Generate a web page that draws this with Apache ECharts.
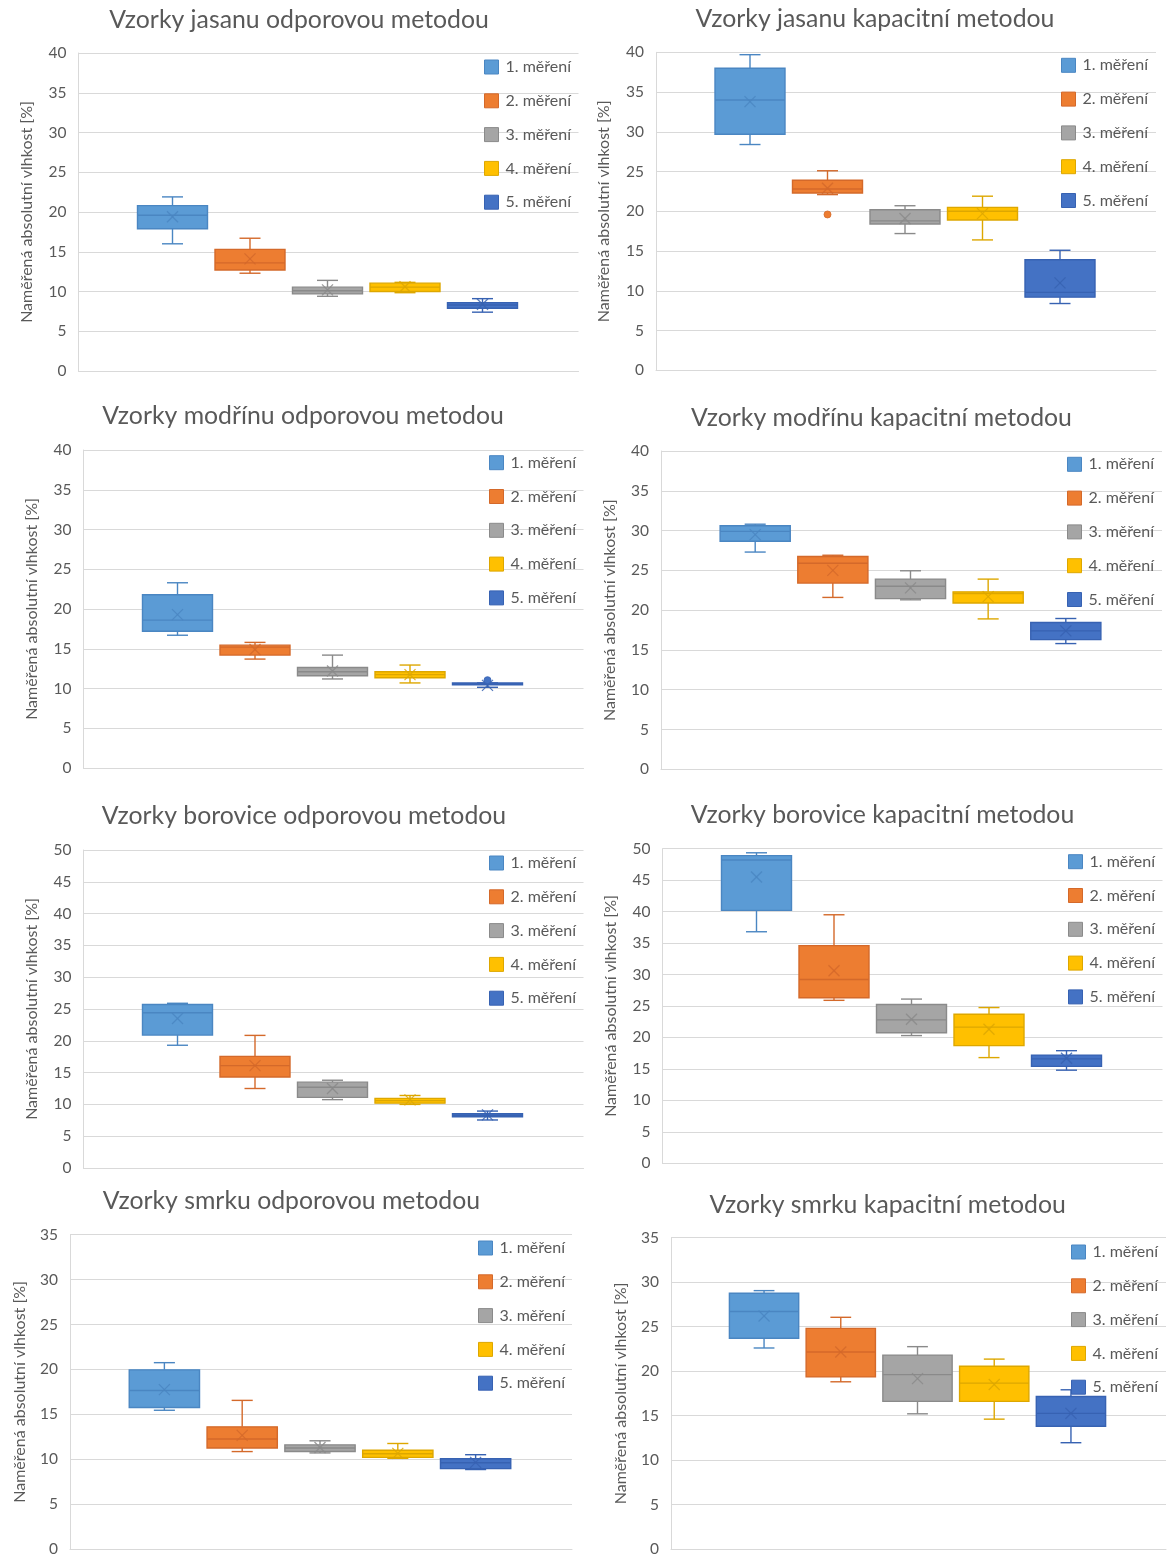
<!DOCTYPE html>
<html>
<head>
<meta charset="utf-8">
<script src="https://cdn.jsdelivr.net/npm/echarts@6/dist/echarts.min.js"></script>
<style>
  html, body { margin: 0; padding: 0; background: #ffffff; }
  #chart { width: 1167px; height: 1557px; }
</style>
</head>
<body>
<div id="chart"></div>
<script>
// ---- data -------------------------------------------------------------
const measurementNames = ['1. měření', '2. měření', '3. měření', '4. měření', '5. měření'];
const panelTitles = [
  'Vzorky jasanu odporovou metodou',
  'Vzorky jasanu kapacitní metodou',
  'Vzorky modřínu odporovou metodou',
  'Vzorky modřínu kapacitní metodou',
  'Vzorky borovice odporovou metodou',
  'Vzorky borovice kapacitní metodou',
  'Vzorky smrku odporovou metodou',
  'Vzorky smrku kapacitní metodou'
];
const valueAxisTitle = 'Naměřená absolutní vlhkost [%]';
const valueAxisMax = [40, 40, 40, 40, 50, 50, 35, 35];
const valueAxisStep = 5;

// one row per measurement: [min, Q1, median, Q3, max, mean]
const jasanOdporove = [
  [16.0, 17.9, 19.6, 20.8, 21.9, 19.4],
  [12.3, 12.7, 13.6, 15.3, 16.7, 14.1],
  [9.4, 9.7, 10.1, 10.55, 11.4, 10.2],
  [9.85, 10.0, 10.55, 11.05, 11.15, 10.6],
  [7.4, 7.9, 8.3, 8.6, 9.1, 8.4]
];
const jasanKapacitni = [
  [28.4, 29.7, 34.0, 38.0, 39.7, 33.8],
  [22.1, 22.3, 22.8, 23.9, 25.1, 22.9],
  [17.2, 18.4, 18.8, 20.2, 20.7, 19.1],
  [16.4, 18.9, 20.0, 20.5, 21.9, 19.7],
  [8.4, 9.2, 9.8, 13.9, 15.1, 11.0]
];
const modrinOdporove = [
  [16.7, 17.2, 18.6, 21.8, 23.3, 19.3],
  [13.7, 14.2, 15.2, 15.45, 15.8, 14.9],
  [11.2, 11.6, 12.1, 12.65, 14.2, 12.2],
  [10.7, 11.35, 11.75, 12.1, 12.95, 11.75],
  [10.15, 10.45, 10.55, 10.7, 10.7, 10.4]
];
const modrinKapacitni = [
  [27.3, 28.65, 29.9, 30.6, 30.8, 29.5],
  [21.6, 23.4, 25.9, 26.75, 26.9, 25.0],
  [21.3, 21.45, 23.0, 23.9, 24.95, 22.8],
  [18.9, 20.9, 22.1, 22.3, 23.9, 21.7],
  [15.8, 16.3, 17.4, 18.45, 18.95, 17.4]
];
const borovOdporove = [
  [19.3, 20.9, 24.4, 25.7, 25.9, 23.5],
  [12.5, 14.3, 16.1, 17.55, 20.85, 16.1],
  [10.75, 11.1, 12.7, 13.5, 13.8, 12.5],
  [10.0, 10.2, 10.6, 10.95, 11.4, 10.7],
  [7.55, 8.05, 8.3, 8.55, 8.95, 8.35]
];
const borovKapacitni = [
  [36.8, 40.2, 48.2, 48.9, 49.35, 45.5],
  [25.9, 26.3, 29.2, 34.6, 39.5, 30.6],
  [20.3, 20.75, 22.8, 25.25, 26.1, 22.9],
  [16.8, 18.7, 21.65, 23.7, 24.75, 21.3],
  [14.8, 15.4, 16.6, 17.2, 17.9, 16.7]
];
const smrkOdporove = [
  [15.45, 15.75, 17.65, 19.95, 20.75, 17.75],
  [10.85, 11.25, 12.25, 13.6, 16.55, 12.65],
  [10.7, 10.85, 11.25, 11.6, 12.05, 11.3],
  [10.1, 10.2, 10.6, 11.0, 11.75, 10.65],
  [8.85, 8.95, 9.6, 10.05, 10.5, 9.65]
];
const smrkKapacitni = [
  [22.6, 23.7, 26.7, 28.75, 29.05, 26.2],
  [18.8, 19.35, 22.15, 24.8, 26.05, 22.15],
  [15.2, 16.6, 19.6, 21.8, 22.75, 19.15],
  [14.6, 16.6, 18.65, 20.55, 21.35, 18.5],
  [11.95, 13.8, 15.25, 17.15, 17.9, 15.25]
];
// points outside the whiskers, per measurement
const jasanKapacitniOutliers = [[], [19.6], [], [], []];
const modrinOdporoveOutliers = [[], [], [], [], [11.05]];
const noOutliers = [[], [], [], [], []];

const panelBoxes = [jasanOdporove, jasanKapacitni, modrinOdporove, modrinKapacitni,
                    borovOdporove, borovKapacitni, smrkOdporove, smrkKapacitni];
const panelOutliers = [noOutliers, jasanKapacitniOutliers, modrinOdporoveOutliers, noOutliers,
                       noOutliers, noOutliers, noOutliers, noOutliers];

// ---- styling & layout -------------------------------------------------
const fillColors = ['#5B9BD5', '#ED7D31', '#A5A5A5', '#FFC000', '#4472C4'];
const lineColors = ['#4A86C2', '#D4692A', '#8A8A8A', '#DDA700', '#3762B2'];
const textColor = '#595959';
const gridColor = '#D9D9D9';
const fontFamily = 'Lato, "Open Sans", sans-serif';

// plot rectangle, title anchor, legend anchor and axis-name gap for each panel
const panelLayout = [
  { left: 78.5, top: 53,     width: 500, height: 318,   titleX: 299,   titleTop: 8,      legendLeft: 484,  legendTop: 59,     nameGap: 44 },
  { left: 656,  top: 52.3,   width: 500, height: 318,   titleX: 875,   titleTop: 6.5,    legendLeft: 1061, legendTop: 57.3,   nameGap: 44.5 },
  { left: 83.5, top: 450,    width: 500, height: 318,   titleX: 303,   titleTop: 404,    legendLeft: 489,  legendTop: 454.7,  nameGap: 44 },
  { left: 661,  top: 451,    width: 501, height: 318.3, titleX: 881.5, titleTop: 405.5,  legendLeft: 1067, legendTop: 456.3,  nameGap: 43 },
  { left: 83.5, top: 850,    width: 500, height: 318,   titleX: 304,   titleTop: 804,    legendLeft: 489,  legendTop: 855,    nameGap: 44 },
  { left: 662.5,top: 848.7,  width: 500, height: 314.6, titleX: 882.5, titleTop: 802.5,  legendLeft: 1068, legendTop: 853.7,  nameGap: 44 },
  { left: 70,   top: 1234.7, width: 502, height: 317.3, titleX: 291.4, titleTop: 1189,   legendLeft: 478,  legendTop: 1240,   nameGap: 42.5 },
  { left: 671,  top: 1237.7, width: 495, height: 313,   titleX: 887.6, titleTop: 1193,   legendLeft: 1071, legendTop: 1244,   nameGap: 42.5 }
];

// box geometry as fractions of the category band
const SLOT_STEP = 0.155;
const BOX_HALF = 0.07;
const CAP_HALF = 0.021;
const MEAN_HALF = 5.5;

function boxRenderer(panelIdx, slot) {
  return function (params, api) {
    const band = api.size([1, 0])[0];
    const cx = api.coord([0, 0])[0] + (slot - 2) * band * SLOT_STEP - 1;
    const half = band * BOX_HALF;
    const cap = band * CAP_HALF;
    const y = (k) => api.coord([0, api.value(k)])[1];
    const yMin = y(1), yQ1 = y(2), yMed = y(3), yQ3 = y(4), yMax = y(5), yMean = y(6);
    const stroke = lineColors[slot];
    const ls = { stroke: stroke, lineWidth: 1.4 };
    const children = [
      { type: 'line', shape: { x1: cx, y1: yMax, x2: cx, y2: yQ3 }, style: ls },
      { type: 'line', shape: { x1: cx, y1: yQ1, x2: cx, y2: yMin }, style: ls },
      { type: 'line', shape: { x1: cx - cap, y1: yMax, x2: cx + cap, y2: yMax }, style: ls },
      { type: 'line', shape: { x1: cx - cap, y1: yMin, x2: cx + cap, y2: yMin }, style: ls },
      { type: 'rect', shape: { x: cx - half, y: yQ3, width: 2 * half, height: Math.max(yQ1 - yQ3, 1) },
        style: { fill: fillColors[slot], stroke: stroke, lineWidth: 1.4 } },
      { type: 'line', shape: { x1: cx - half, y1: yMed, x2: cx + half, y2: yMed }, style: ls },
      { type: 'line', shape: { x1: cx - MEAN_HALF, y1: yMean - MEAN_HALF, x2: cx + MEAN_HALF, y2: yMean + MEAN_HALF },
        style: { stroke: stroke, lineWidth: 1.2, opacity: 0.85 } },
      { type: 'line', shape: { x1: cx - MEAN_HALF, y1: yMean + MEAN_HALF, x2: cx + MEAN_HALF, y2: yMean - MEAN_HALF },
        style: { stroke: stroke, lineWidth: 1.2, opacity: 0.85 } }
    ];
    panelOutliers[panelIdx][slot].forEach(function (v) {
      const p = api.coord([0, v]);
      children.push({ type: 'circle', shape: { cx: cx, cy: p[1], r: 3.5 },
        style: { fill: fillColors[slot], stroke: stroke, lineWidth: 0.8 } });
    });
    return { type: 'group', children: children };
  };
}

const titles = [], legends = [], grids = [], xAxes = [], yAxes = [], series = [];

panelLayout.forEach(function (L, i) {
  titles.push({
    text: panelTitles[i], left: L.titleX, top: L.titleTop, textAlign: 'center', padding: 0,
    textStyle: { fontFamily: fontFamily, fontSize: 24.8, fontWeight: 'normal', color: textColor }
  });
  legends.push({
    orient: 'vertical', left: L.legendLeft, top: L.legendTop, padding: 0,
    itemWidth: 14, itemHeight: 14, itemGap: 17.8, icon: 'rect', selectedMode: false,
    textStyle: { fontFamily: fontFamily, fontSize: 16, color: textColor, lineHeight: 14, padding: [0, 0, 0, 2] },
    data: measurementNames.map(function (n, k) {
      return { name: n, itemStyle: { color: fillColors[k], borderColor: lineColors[k], borderWidth: 1 } };
    })
  });
  grids.push({ left: L.left, top: L.top, width: L.width, height: L.height, containLabel: false });
  xAxes.push({
    type: 'category', gridIndex: i, data: [''], boundaryGap: true,
    axisLine: { show: true, lineStyle: { color: gridColor, width: 1 } },
    axisTick: { show: false }, axisLabel: { show: false }, splitLine: { show: false }
  });
  yAxes.push({
    type: 'value', gridIndex: i, min: 0, max: valueAxisMax[i], interval: valueAxisStep,
    name: valueAxisTitle, nameLocation: 'middle', nameGap: L.nameGap,
    nameTextStyle: { fontFamily: fontFamily, fontSize: 16, color: textColor },
    axisLine: { show: true, lineStyle: { color: gridColor, width: 1 } },
    axisTick: { show: false },
    axisLabel: { fontFamily: fontFamily, fontSize: 15.5, color: textColor, margin: 12 },
    splitLine: { show: true, lineStyle: { color: gridColor, width: 1 } }
  });
  panelBoxes[i].forEach(function (row, slot) {
    series.push({
      type: 'custom', name: measurementNames[slot], xAxisIndex: i, yAxisIndex: i,
      itemStyle: { color: fillColors[slot], borderColor: lineColors[slot] },
      dimensions: ['x', 'min', 'q1', 'median', 'q3', 'max', 'mean'],
      encode: { x: 0, y: [1, 2, 3, 4, 5, 6] },
      data: [[0].concat(row)],
      renderItem: boxRenderer(i, slot),
      silent: true
    });
  });
});

const chart = echarts.init(document.getElementById('chart'), null, { renderer: 'canvas' });
chart.setOption({
  backgroundColor: '#ffffff',
  animation: false,
  title: titles,
  legend: legends,
  grid: grids,
  xAxis: xAxes,
  yAxis: yAxes,
  series: series
});
</script>
</body>
</html>
